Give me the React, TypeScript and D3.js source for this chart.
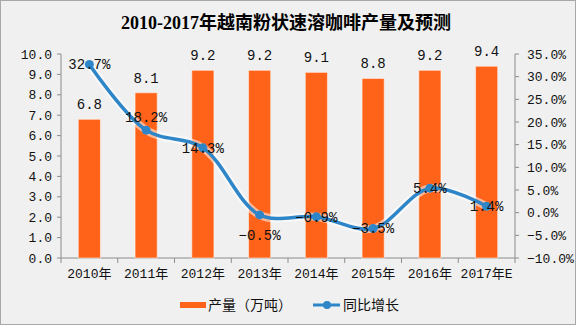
import React from "react";
import * as d3 from "d3";

const categories = ["2010年", "2011年", "2012年", "2013年", "2014年", "2015年", "2016年", "2017年E"];
const production = [6.8, 8.1, 9.2, 9.2, 9.1, 8.8, 9.2, 9.4];
const growth = [32.7, 18.2, 14.3, -0.5, -0.9, -3.5, 5.4, 1.4];
const leftTicks = [0, 1, 2, 3, 4, 5, 6, 7, 8, 9, 10];
const rightTicks = [-10, -5, 0, 5, 10, 15, 20, 25, 30, 35];
const title = "2010-2017年越南粉状速溶咖啡产量及预测";
const legendBar = "产量（万吨）";
const legendLine = "同比增长";

const W = 576;
const H = 326;
const FONT = "'Liberation Mono', 'Noto Sans CJK SC', monospace";
const ORANGE = "#ff6319";
const BLUE = "#2e86c8";
const AXIS = "#8c8c8c";

export default function App() {
  const left = 61, right = 515, top = 54, bottom = 258;
  const x = d3.scaleBand<string>().domain(categories).range([left, right]).paddingInner(0.61).paddingOuter(0.305);
  const yL = d3.scaleLinear().domain([0, 10]).range([bottom, top]);
  const yR = d3.scaleLinear().domain([-10, 35]).range([bottom, top]);
  const step = x.step();
  const cx = (c: string) => (x(c) as number) + x.bandwidth() / 2;

  const pts: [number, number][] = growth.map((g, i) => [cx(categories[i]), yR(g)]);
  const line = d3.line().curve(d3.curveCatmullRom.alpha(0.5))(pts) || "";

  // label offsets for the growth labels (placement only)
  const lblDy: Record<number, number> = { 1: -13, 3: 20 };

  return (
    <svg width={W} height={H} style={{ position: "absolute", left: 0, top: 0 }} fontFamily={FONT}>
      <rect x={0.5} y={0.5} width={W - 1} height={H - 2} fill="#f0f0f0" stroke="#a8a8a8" />
      <text x={286} y={29} textAnchor="middle" fontSize={18} fontWeight="bold" fill="#000"
        fontFamily="'Liberation Serif', 'Noto Sans CJK SC', serif">{title}</text>

      {/* axes */}
      <line x1={left} x2={left} y1={top} y2={bottom} stroke={AXIS} />
      <line x1={right} x2={right} y1={top} y2={bottom} stroke={AXIS} />
      <line x1={left} x2={right} y1={bottom} y2={bottom} stroke={AXIS} />
      {leftTicks.map((t) => (
        <g key={"l" + t}>
          <line x1={left - 4} x2={left} y1={yL(t)} y2={yL(t)} stroke={AXIS} />
          <text x={52} y={yL(t)} dy="0.35em" textAnchor="end" fontSize={13} fill="#111">{d3.format(".1f")(t)}</text>
        </g>
      ))}
      {rightTicks.map((t) => (
        <g key={"r" + t}>
          <line x1={right} x2={right + 4} y1={yR(t)} y2={yR(t)} stroke={AXIS} />
          <text x={527} y={yR(t)} dy="0.35em" textAnchor="start" fontSize={13} fill="#111">{d3.format(".1f")(t) + "%"}</text>
        </g>
      ))}
      {d3.range(categories.length + 1).map((i) => (
        <line key={"xt" + i} x1={left + i * step} x2={left + i * step} y1={bottom} y2={bottom + 5} stroke={AXIS} />
      ))}
      {categories.map((c) => (
        <text key={"xl" + c} x={cx(c)} y={278} textAnchor="middle" fontSize={13} fill="#111">{c}</text>
      ))}

      {/* bars */}
      {production.map((v, i) => (
        <g key={"b" + i}>
          <rect x={x(categories[i])} y={yL(v)} width={x.bandwidth()} height={bottom - yL(v)} fill={ORANGE}
            stroke="#fff3ea" strokeOpacity={0.6} strokeWidth={1} />
          <text x={cx(categories[i])} y={yL(v) - 10} textAnchor="middle" fontSize={14} fill="#111">{d3.format(".1f")(v)}</text>
        </g>
      ))}

      {/* line */}
      <path d={line} fill="none" stroke="#ffffff" strokeOpacity={0.55} strokeWidth={8} strokeLinecap="round" />
      <path d={line} fill="none" stroke={BLUE} strokeWidth={3.5} strokeLinecap="round" />
      {pts.map((p, i) => (
        <circle key={"c" + i} cx={p[0]} cy={p[1]} r={4.5} fill={BLUE} />
      ))}
      {growth.map((g, i) => (
        <text key={"gl" + i} x={pts[i][0]} y={pts[i][1] + (lblDy[i] || 0)} dy="0.35em" textAnchor="middle" fontSize={14} fill="#111">
          {d3.format(".1f")(g) + "%"}
        </text>
      ))}

      {/* legend */}
      <rect x={180} y={302} width={26} height={6} fill={ORANGE} />
      <text x={208} y={305} dy="0.35em" fontSize={14} fill="#111">{legendBar}</text>
      <line x1={313} x2={340} y1={305} y2={305} stroke={BLUE} strokeWidth={3} />
      <circle cx={327} cy={305} r={4} fill={BLUE} />
      <text x={343} y={305} dy="0.35em" fontSize={14} fill="#111">{legendLine}</text>
    </svg>
  );
}
